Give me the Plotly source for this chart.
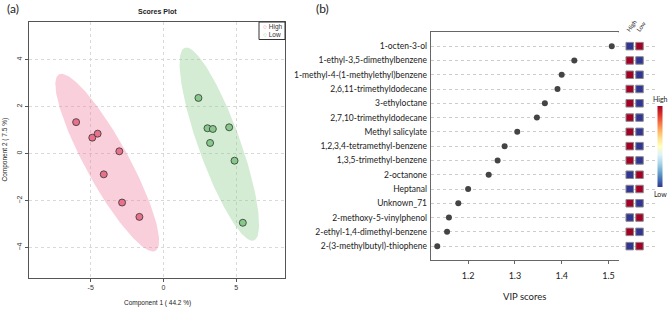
import numpy as np
import plotly.graph_objects as go

# ---------------- data ----------------
high_x = [-6.0, -4.89, -4.52, -3.03, -4.10, -2.84, -1.65]
high_y = [1.34, 0.68, 0.85, 0.10, -0.88, -2.08, -2.69]
low_x = [2.41, 3.03, 3.40, 4.52, 3.21, 4.89, 5.46]
low_y = [2.37, 1.08, 1.05, 1.12, 0.455, -0.30, -2.94]

compounds = [
    "1-octen-3-ol", "1-ethyl-3,5-dimethylbenzene", "1-methyl-4-(1-methylethyl)benzene",
    "2,6,11-trimethyldodecane", "3-ethyloctane", "2,7,10-trimethyldodecane",
    "Methyl salicylate", "1,2,3,4-tetramethyl-benzene", "1,3,5-trimethyl-benzene",
    "2-octanone", "Heptanal", "Unknown_71", "2-methoxy-5-vinylphenol",
    "2-ethyl-1,4-dimethyl-benzene", "2-(3-methylbutyl)-thiophene",
]
vip = [1.507, 1.427, 1.400, 1.391, 1.364, 1.347, 1.305, 1.278, 1.263,
       1.244, 1.200, 1.179, 1.159, 1.155, 1.134]
high_level = [0, 1, 1, 1, 1, 1, 1, 1, 1, 0, 0, 1, 0, 1, 0]
low_level = [1, 0, 0, 0, 0, 0, 0, 0, 0, 1, 1, 0, 1, 0, 1]
groups = ["High", "Low"]

W, H = 669, 309
def px(x): return x / W
def py(y): return 1 - y / H

PINK_FILL = "rgba(240,130,160,0.38)"
GREEN_FILL = "rgba(140,205,140,0.38)"
PINK_PT = "#E8708A"
GREEN_PT = "#86C98A"

def ellipse(xs, ys, k=np.sqrt(5.991)):
    xs, ys = np.asarray(xs), np.asarray(ys)
    c = np.cov(np.vstack([xs, ys]))
    vals, vecs = np.linalg.eigh(c)
    t = np.linspace(0, 2 * np.pi, 200)
    circ = np.vstack([np.cos(t), np.sin(t)])
    pts = vecs @ (np.sqrt(vals)[:, None] * circ) * k
    return pts[0] + xs.mean(), pts[1] + ys.mean()

fig = go.Figure()
LF = "Liberation Sans"
RF = "Lato"

for xs, ys, fillc, ptc in [(high_x, high_y, PINK_FILL, PINK_PT), (low_x, low_y, GREEN_FILL, GREEN_PT)]:
    ex, ey = ellipse(xs, ys)
    fig.add_trace(go.Scatter(x=ex, y=ey, mode="lines", fill="toself", fillcolor=fillc,
                             line=dict(width=0), hoverinfo="skip", showlegend=False,
                             xaxis="x", yaxis="y"))
for xs, ys, ptc in [(high_x, high_y, PINK_PT), (low_x, low_y, GREEN_PT)]:
    fig.add_trace(go.Scatter(x=xs, y=ys, mode="markers", showlegend=False,
                             marker=dict(size=7, color=ptc, line=dict(width=0.8, color="#333")),
                             xaxis="x", yaxis="y"))

# VIP dots
fig.add_trace(go.Scatter(x=vip, y=compounds, mode="markers", showlegend=False,
                         marker=dict(size=6, color="#444444"), xaxis="x2", yaxis="y2"))

# heat squares
for g, lev in zip(groups, [high_level, low_level]):
    fig.add_trace(go.Scatter(
        x=[g] * len(compounds), y=compounds, mode="markers", showlegend=False,
        marker=dict(symbol="square", size=7.5, color=lev, cmin=0, cmax=1,
                    colorscale="RdYlBu", reversescale=True,
                    line=dict(width=1, color="#8a8a8a"),
                    showscale=(g == "High"),
                    colorbar=dict(thickness=5, lenmode="pixels", len=81,
                                  x=px(660), xanchor="center", y=py(146.3), yanchor="middle",
                                  xpad=0, ypad=0,
                                  showticklabels=False, ticks="", outlinewidth=0)),
        xaxis="x3", yaxis="y2"))

fig.update_layout(
    width=W, height=H, margin=dict(l=0, r=0, t=0, b=0),
    paper_bgcolor="white", plot_bgcolor="white", showlegend=False,
    xaxis=dict(domain=[px(29), px(285)], range=[-9.24, 8.36], anchor="y",
               tickvals=[-5, 0, 5], ticktext=["-5", "0", "5"],
               showgrid=True, gridcolor="#d9d9d9", griddash="dot", gridwidth=1,
               zeroline=False, showline=True, mirror=True, linecolor="#555", linewidth=1,
               ticks="outside", ticklen=3, tickcolor="#555",
               tickfont=dict(family=LF, size=7, color="#333")),
    yaxis=dict(domain=[py(278), py(22)], range=[-5.29, 5.6], anchor="x",
               tickvals=[-4, -2, 0, 2, 4], tickangle=-90,
               showgrid=True, gridcolor="#d9d9d9", griddash="dot", gridwidth=1,
               zeroline=False, showline=True, mirror=True, linecolor="#555", linewidth=1,
               ticks="outside", ticklen=3, tickcolor="#555",
               tickfont=dict(family=LF, size=7, color="#333")),
    xaxis2=dict(domain=[px(430.7), px(618.3)], range=[1.120, 1.521], anchor="y2",
                tickvals=[1.2, 1.3, 1.4, 1.5], showgrid=False, zeroline=False,
                showline=True, mirror=True, linecolor="#666", linewidth=1,
                ticks="outside", ticklen=3, tickcolor="#666", ticklabelstandoff=4,
                tickfont=dict(family=RF, size=9, color="#222")),
    yaxis2=dict(domain=[py(260), py(32.3)], type="category", categoryorder="array",
                categoryarray=compounds, range=[14.97, -0.97], anchor="x2",
                showgrid=True, gridcolor="#cccccc", griddash="dot", gridwidth=1,
                zeroline=False, showline=True, mirror=True, linecolor="#666", linewidth=1,
                ticks="", ticklabelstandoff=1,
                tickfont=dict(family=RF, size=8.5, color="#222")),
    xaxis3=dict(domain=[px(615.5), px(655.6)], type="category", categoryorder="array",
                categoryarray=groups, range=[-1.45, 2.64], anchor="y2",
                visible=False),
)

ann = []
ann.append(dict(x=px(13), y=py(8), text="(a)", font=dict(family=RF, size=12, color="#222")))
ann.append(dict(x=px(322), y=py(8), text="(b)", font=dict(family=RF, size=12, color="#222")))
ann.append(dict(x=px(157), y=py(11), text="<b>Scores Plot</b>", font=dict(family=LF, size=7, color="#222")))
ann.append(dict(x=px(157), y=py(302.5), text="Component 1 ( 44.2 %)", font=dict(family=LF, size=6.5, color="#222")))
ann.append(dict(x=px(4.5), y=py(150), text="Component 2 ( 7.5 %)", textangle=-90, font=dict(family=LF, size=6.5, color="#222")))
ann.append(dict(x=px(524.3), y=py(296.7), text="VIP scores", font=dict(family=RF, size=9.5, color="#222")))
ann.append(dict(x=px(660), y=py(98.7), text="High", font=dict(family=RF, size=7, color="#222")))
ann.append(dict(x=px(660), y=py(194), text="Low", font=dict(family=RF, size=7, color="#222")))
ann.append(dict(x=px(630.5), y=py(26), text="High", textangle=-55, font=dict(family=RF, size=6, color="#222")))
ann.append(dict(x=px(640.5), y=py(26), text="Low", textangle=-55, font=dict(family=RF, size=6, color="#222")))
# legend box content
ann.append(dict(x=px(261), y=py(26.5), xanchor="left",
                text=f"<span style='color:{PINK_PT}'>○</span> High", font=dict(family=LF, size=6.5, color="#333")))
ann.append(dict(x=px(261), y=py(34.5), xanchor="left",
                text=f"<span style='color:{GREEN_PT}'>○</span> Low", font=dict(family=LF, size=6.5, color="#333")))
for a in ann:
    a.setdefault("xanchor", "center")
    a.update(xref="paper", yref="paper", yanchor="middle", showarrow=False)
fig.update_layout(annotations=ann)

fig.add_shape(type="rect", xref="paper", yref="paper",
              x0=px(259), x1=px(285), y0=py(39.5), y1=py(22),
              line=dict(color="#333", width=1), fillcolor="white", layer="above")

fig.write_html("out.html", config={"displayModeBar": False},
               post_script="document.body.style.margin='0';document.body.style.overflow='hidden';")
